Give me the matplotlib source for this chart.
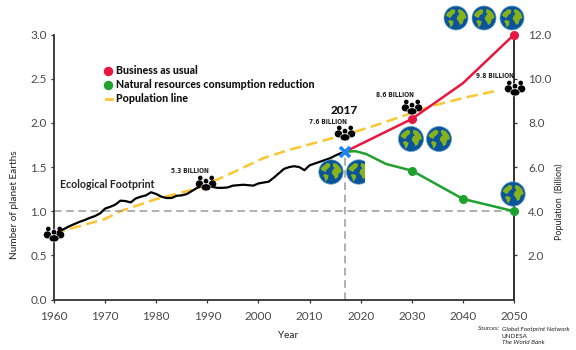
import numpy as np
import matplotlib
matplotlib.use("Agg")
import matplotlib.pyplot as plt
from matplotlib.patches import Circle, Polygon, Ellipse, Rectangle

plt.rcParams['font.family'] = ['Lato', 'DejaVu Sans']

W, H = 576, 350
footprint_years = list(range(1960, 2018))
footprint = [0.73, 0.775, 0.80, 0.83, 0.855, 0.88, 0.90, 0.925, 0.945, 0.975,
             1.03, 1.05, 1.075, 1.12, 1.115, 1.10, 1.145, 1.165, 1.18, 1.215,
             1.195, 1.165, 1.15, 1.15, 1.175, 1.18, 1.195, 1.23, 1.265, 1.29,
             1.295, 1.275, 1.265, 1.265, 1.27, 1.29, 1.295, 1.30, 1.295, 1.29,
             1.315, 1.325, 1.335, 1.38, 1.43, 1.48, 1.50, 1.51, 1.50, 1.465,
             1.52, 1.54, 1.56, 1.58, 1.60, 1.63, 1.655, 1.675]
bau_years = [2017, 2030, 2040, 2050]
bau = [1.675, 2.045, 2.45, 3.0]
bau_marker_years = [2030, 2050]
bau_marker = [2.045, 3.0]
nat_years = [2017, 2019, 2021, 2025, 2030, 2040, 2050]
nat = [1.675, 1.68, 1.65, 1.535, 1.46, 1.14, 1.0]
nat_marker_years = [2030, 2040, 2050]
nat_marker = [1.46, 1.14, 1.0]
pop_years = [1960, 1970, 1973, 1980, 1988, 1994, 2001, 2006, 2017, 2022, 2034, 2040, 2047]
pop = [3.0, 3.65, 4.0, 4.55, 5.03, 5.65, 6.41, 6.78, 7.47, 7.82, 8.77, 9.13, 9.48]
x_ticks = list(range(1960, 2051, 10))
left_ticks = [0.0, 0.5, 1.0, 1.5, 2.0, 2.5, 3.0]
right_ticks = [2.0, 4.0, 6.0, 8.0, 10.0, 12.0]
billion_labels = ["5.3 BILLION", "7.6 BILLION", "8.6 BILLION", "9.8 BILLION"]
legend_labels = ["Business as usual", "Natural resources consumption reduction", "Population line"]

RED, GREEN, YEL, BLUE = "#e8173f", "#1fa12e", "#fdc52f", "#1e86ee"
DARK, TXT = "#333333", "#4a4a4a"

fig = plt.figure(figsize=(W/100, H/100), dpi=100, facecolor="white")
ax = fig.add_axes([54/W, 1-299.5/H, 460/W, 264.8/H])
ax.set_xlim(1960, 2050)
ax.set_ylim(0, 3)
ax.spines['top'].set_visible(False)
for s in ax.spines.values():
    s.set_color(DARK); s.set_linewidth(1.3)
ax.set_xticks(x_ticks)
ax.set_yticks(left_ticks)
ax.set_yticklabels([f"{v:.1f}" for v in left_ticks])
ax.tick_params(axis='both', length=2, width=0.9, color=DARK, labelcolor=TXT, labelsize=8.5, pad=3)
ax.tick_params(axis='x', pad=6)
ax2 = ax.twinx()
ax2.set_ylim(0, 12)
ax2.set_yticks(right_ticks)
ax2.set_yticklabels([f"{v:.1f}" for v in right_ticks])
ax2.tick_params(axis='y', length=2, width=0.9, color=DARK, labelcolor=TXT, labelsize=8.5, pad=8)
for k, s in ax2.spines.items():
    s.set_visible(k == 'right')
    s.set_color(DARK); s.set_linewidth(1.3)

ax.axhline(1.0, color="#9a9a9a", lw=1.1, dashes=(5, 3), zorder=1)
ax.plot([2017, 2017], [0, 1.675], color="#9a9a9a", lw=1.1, dashes=(5, 3), zorder=1)
ax2.plot(pop_years, pop, color=YEL, lw=1.8, dashes=(4.5, 2.2), zorder=2)
ax.plot(footprint_years, footprint, color="black", lw=1.6, zorder=3, solid_joinstyle='round')
ax.plot(bau_years, bau, color=RED, lw=1.8, zorder=3)
ax.plot(nat_years, nat, color=GREEN, lw=1.8, zorder=3)
ax.plot(bau_marker_years, bau_marker, 'o', color=RED, ms=5.5, zorder=4, clip_on=False)
ax.plot(nat_marker_years, nat_marker, 'o', color=GREEN, ms=5.5, zorder=4, clip_on=False)
ax.plot([2017], [1.675], marker='x', color=BLUE, ms=7.5, mew=2.6, zorder=5)
ax.set_zorder(ax2.get_zorder() + 1)
ax.patch.set_visible(False)

# overlay in pixel coordinates for decorative icons and free text
ov = fig.add_axes([0, 0, 1, 1], zorder=10)
ov.set_xlim(0, W); ov.set_ylim(H, 0); ov.axis('off')

lands = [
    [(-.7,-.45),(-.3,-.75),(-.05,-.65),(-.1,-.4),(-.35,-.2),(-.45,.0),(-.7,-.1),(-.85,-.25)],
    [(-.5,.15),(-.2,.28),(-.25,.55),(-.45,.8),(-.52,.5),(-.65,.28)],
    [(.2,-.75),(.5,-.65),(.78,-.35),(.88,.0),(.65,.1),(.55,.45),(.35,.58),(.22,.28),(.05,.08),(.15,-.2),(.3,-.3),(.15,-.5)],
]

def earth(cx, cy, r, clip_x=None):
    clip = Rectangle((cx-r-1, cy-r-1), (clip_x if clip_x else cx+r+1)-(cx-r-1), 2*r+2,
                     transform=ov.transData)
    c = Circle((cx, cy), r, fc="#0c5499", ec="#5c9fc9", lw=0.5, zorder=6)
    ov.add_patch(c)
    c.set_clip_path(clip)
    for land in lands:
        p = Polygon([(cx+a*r, cy+b*r) for a, b in land], fc="#86b31c", ec="none", zorder=7)
        ov.add_patch(p)
        if clip_x:
            p.set_clip_path(clip)

def people(cx, cy, s=1.0):
    for dx in (-5.2, 5.2):
        ov.add_patch(Circle((cx+dx*s, cy-4.6*s), 2.1*s, fc="black", ec="none", zorder=9))
        ov.add_patch(Ellipse((cx+dx*s*1.15, cy+0.8*s), 6.8*s, 6.5*s, fc="black", ec="none", zorder=9))
    ov.add_patch(Circle((cx, cy-1.6*s), 2.5*s, fc="black", ec="white", lw=0.4, zorder=9))
    ov.add_patch(Ellipse((cx, cy+4.0*s), 9*s, 6.5*s, fc="black", ec="white", lw=0.4, zorder=9))

for cx in (456, 484, 512):
    earth(cx, 18, 12)
earth(411, 139, 12.5); earth(439, 139, 12.5)
earth(513, 194, 12.2)
earth(331, 172, 12.2); earth(358.7, 172, 12.2, clip_x=364.7)

for cx, cy in [(54, 234), (206, 183), (345, 133), (412, 107), (515, 88)]:
    people(cx, cy, 1.1)

for lab, (x, y) in zip(billion_labels, [(190, 171), (328, 122), (395, 95), (495, 76)]):
    ov.text(x, y, lab, fontsize=4.7, fontweight='bold', color="#222222", ha='center', va='center',
            family='DejaVu Sans', stretch='condensed', zorder=11)
ov.text(344, 111, "2017", fontsize=8.5, fontweight='black', color="#111111", ha='center', va='center')
ov.text(60, 184.5, "Ecological Footprint", fontsize=7.6, fontweight='bold', color="#222222", ha='left', va='center')

ov.plot([108], [71], 'o', color=RED, ms=5.8)
ov.plot([108], [85], 'o', color=GREEN, ms=5.8)
ov.plot([105.5, 111.5], [99, 99], color=YEL, lw=2)
for lab, y in zip(legend_labels, [71, 85, 99]):
    ov.text(116, y, lab, fontsize=7.7, fontweight='black', color="#111111", ha='left', va='center')

ov.text(15, 205, "Number of planet Earths", rotation=90, fontsize=7.2, color="#222222", ha='center', va='center')
ov.text(559, 202, "Population  (Billion)", rotation=90, fontsize=6.5, color="#222222", ha='center', va='center')
ov.text(288, 336, "Year", fontsize=7.2, color="#222222", ha='center', va='center')
ov.text(478, 329, "Sources:", fontsize=4.6, style='italic', color="#222222", ha='left', va='center')
ov.text(502, 329, "Global Footprint Network", fontsize=4.6, style='italic', color="#222222", ha='left', va='center')
ov.text(502, 336, "UNDESA", fontsize=4.6, color="#222222", ha='left', va='center')
ov.text(502, 343, "The World Bank", fontsize=4.6, style='italic', color="#222222", ha='left', va='center')

fig.savefig("out.png", dpi=100)
